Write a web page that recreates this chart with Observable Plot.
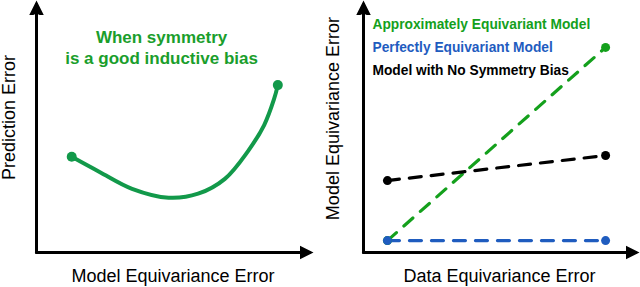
<!DOCTYPE html>
<html>
<head>
<meta charset="utf-8">
<script src="https://cdn.jsdelivr.net/npm/d3@7"></script>
<script src="https://cdn.jsdelivr.net/npm/@observablehq/plot@0.6"></script>
<style>
  html, body { margin: 0; padding: 0; background: #fff; }
  #wrap { display: flex; flex-direction: row; width: 640px; height: 287px; }
  svg { font-family: "Liberation Sans", Arial, Helvetica, sans-serif; }
</style>
</head>
<body>
<div id="wrap"></div>
<script>
// ---- Left panel data: prediction error vs model equivariance error ----
const curveX = [1.29, 2.31, 3.50, 4.84, 5.92, 6.90, 7.73, 8.34, 8.70, 8.84];
const curveY = [3.86, 3.25, 2.57, 2.21, 2.37, 2.97, 4.06, 5.14, 6.18, 6.75];
const leftXLabel = "Model Equivariance Error";
const leftYLabel = "Prediction Error";
const leftNote = ["When symmetry", "is a good inductive bias"];

// ---- Right panel data: model equivariance error vs data equivariance error ----
const seriesNames = ["Approximately Equivariant Model", "Perfectly Equivariant Model", "Model with No Symmetry Bias"];
const seriesColors = ["#14a01c", "#1f5cbf", "#000000"];
const dataX = [0.88, 8.9];
const approxY = [0.48, 8.27];
const perfectY = [0.48, 0.48];
const noBiasY = [2.90, 3.91];
const rightXLabel = "Data Equivariance Error";
const rightYLabel = "Model Equivariance Error";

const FONT = "Liberation Sans, Arial, Helvetica, sans-serif";

function arrowMarker(color, context) {
  const m = d3.create("svg:marker")
    .attr("viewBox", "-10 -10 20 20")
    .attr("markerUnits", "userSpaceOnUse")
    .attr("markerWidth", 20)
    .attr("markerHeight", 20)
    .attr("refX", 0)
    .attr("refY", 0)
    .attr("orient", "auto");
  m.append("path").attr("fill", color).attr("stroke", "none")
    .attr("d", "M-13,-8.5 L4,0 L-13,8.5 L-9,0 Z");
  return m.node();
}

function axesMarks() {
  return [
    Plot.line([[0, 0], [10, 0]], {stroke: "black", strokeWidth: 3, markerEnd: arrowMarker}),
    Plot.line([[0, 0], [0, 10]], {stroke: "black", strokeWidth: 3, markerEnd: arrowMarker})
  ];
}

const curve = curveX.map((x, i) => ({x, y: curveY[i]}));
const ends = [curve[0], curve[curve.length - 1]];

const left = Plot.plot({
  width: 320, height: 287,
  marginLeft: 36, marginRight: 11, marginTop: 4, marginBottom: 35,
  x: {domain: [0, 10], axis: null},
  y: {domain: [0, 10], axis: null},
  style: {fontFamily: FONT, background: "white"},
  marks: [
    ...axesMarks(),
    Plot.line(curve, {x: "x", y: "y", curve: "catmull-rom", stroke: "#12994a", strokeWidth: 4}),
    Plot.dot(ends, {x: "x", y: "y", r: 5, fill: "#12994a"}),
    Plot.text(leftNote, {x: 4.58, y: (d, i) => 8.65 - i * 0.81, text: d => d, fill: "#1a9e2c",
      fontWeight: "bold", fontSize: 17, textAnchor: "middle"}),
    Plot.text([leftXLabel], {frameAnchor: "bottom", lineAnchor: "middle", dy: 24, fontSize: 18, fill: "black"}),
    Plot.text([leftYLabel], {x: -0.99, y: 5.44, rotate: -90, textAnchor: "middle", fontSize: 18, fill: "black"})
  ]
});

const rightLines = [
  ...dataX.map((x, i) => ({s: seriesNames[0], x, y: approxY[i]})),
  ...dataX.map((x, i) => ({s: seriesNames[1], x, y: perfectY[i]})),
  ...dataX.map((x, i) => ({s: seriesNames[2], x, y: noBiasY[i]}))
];
const colorScale = {domain: seriesNames, range: seriesColors};

const right = Plot.plot({
  width: 320, height: 287,
  marginLeft: 43, marginRight: 5, marginTop: 4, marginBottom: 35,
  x: {domain: [0, 10], axis: null},
  y: {domain: [0, 10], axis: null},
  color: colorScale,
  style: {fontFamily: FONT, background: "white"},
  marks: [
    ...axesMarks(),
    Plot.line(rightLines, {x: "x", y: "y", z: "s", stroke: "s", strokeWidth: 3.2, strokeDasharray: "12,10"}),
    Plot.dot(rightLines, {x: "x", y: "y", fill: "s", r: 4.5}),
    Plot.text(seriesNames, {x: 0.33, y: (d, i) => 9.17 - i * 0.925, text: d => d, fill: d => d,
      fontWeight: "bold", fontSize: 13.75, textAnchor: "start"}),
    Plot.text([rightXLabel], {frameAnchor: "bottom", lineAnchor: "middle", dy: 24, fontSize: 18, fill: "black"}),
    Plot.text([rightYLabel], {x: -1.10, y: 5.40, rotate: -90, textAnchor: "middle", fontSize: 18, fill: "black"})
  ]
});

document.getElementById("wrap").append(left, right);
</script>
</body>
</html>
